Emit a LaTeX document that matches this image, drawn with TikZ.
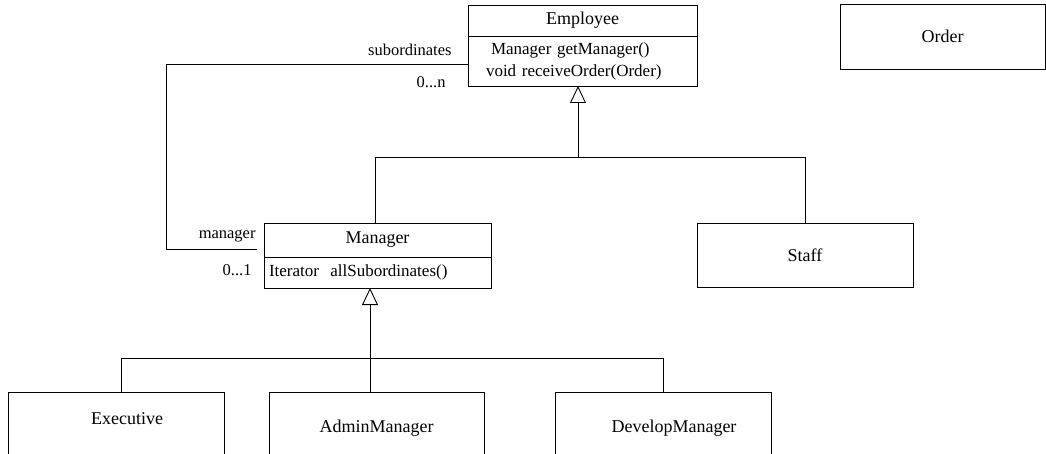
\documentclass[tikz,border=0pt]{standalone}
\usepackage{fontspec}
\setmainfont{Liberation Serif}
\usetikzlibrary{positioning}
\usetikzlibrary{arrows.meta}
\tikzset{classbox/.style={draw, anchor=north west, inner sep=0pt, outer sep=0pt}}
\tikzset{opsbox/.style={draw, anchor=north west, align=left, inner ysep=0pt, outer sep=0pt, font=\fontsize{17}{22}\selectfont}}
\tikzset{rolelabel/.style={anchor=base east, inner sep=0pt, font=\fontsize{16.5}{20}\selectfont}}
\tikzset{genline/.style={-{Triangle[open,length=17pt,width=16pt]}}}

\begin{document}
\begin{tikzpicture}[x=1pt,y=-1pt,line width=0.9pt,font=\fontsize{18}{22}\selectfont]
  \useasboundingbox (0,0) rectangle (1046,454);
  \clip (0,0) rectangle (1046,454);
  \node[classbox, minimum width=229pt, minimum height=31pt] (emp) at (468,5) {Employee};
  \node[opsbox, text width=193pt, inner xsep=18pt, minimum height=50pt] (empops) at (emp.south west) {\hspace{5pt}Manager getManager()\\void receiveOrder(Order)};
  \node[classbox, minimum width=205pt, minimum height=65pt] (order) at (840,4) {Order};
  \node[classbox, minimum width=227pt, minimum height=34pt] (mgr) at (264,223) {Manager};
  \node[opsbox, text width=217pt, inner xsep=5pt, minimum height=31pt] (mgrops) at (mgr.south west) {Iterator\ \ allSubordinates()};
  \node[classbox, minimum width=216pt, minimum height=64pt] (staff) at (697,223) {Staff};
  \node[classbox, minimum width=216pt, minimum height=80pt] (exe) at (8,392) {};
  \node (exename) at (127,419) {Executive};
  \node[classbox, minimum width=215pt, minimum height=72pt] (adm) at (269,392) {AdminManager};
  \node[classbox, minimum width=216pt, minimum height=72pt] (dev) at (555,392) {};
  \node (devname) at (674,428) {DevelopManager};
  \coordinate (topbus) at (578,157);
  \draw ([xshift=-2pt]mgr.north) |- (staff.north |- topbus) -- (staff.north);
  \draw[genline] (topbus) -- (topbus |- empops.south);
  \coordinate (botbus) at (370,358);
  \draw ([xshift=5pt]exe.north) |- (dev.north |- botbus) -- (dev.north);
  \draw[genline] (adm.north -| botbus) -- (mgrops.south -| botbus);
  \coordinate (assocbend) at (166,249);
  \coordinate (mgrend) at (257,249);
  \draw ([yshift=-3pt]empops.west) -| (assocbend) -- (mgrend);
  \node[rolelabel] (subrole) at (452,56) {subordinates};
  \node[rolelabel] (submult) at (446,88) {0...n};
  \node[rolelabel] (mgrrole) at (256,239) {manager};
  \node[rolelabel] (mgrmult) at (252,276) {0...1};
\end{tikzpicture}
\end{document}
